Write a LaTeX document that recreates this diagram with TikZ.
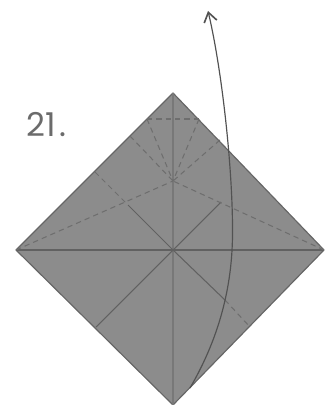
\documentclass[tikz,border=0pt]{standalone}
\usepackage{fontspec}
\setmainfont{Poppins}
\usetikzlibrary{arrows.meta}

\begin{document}
\begin{tikzpicture}[
      x=0.03cm, y=-0.03cm,
      sheet/.style={draw=black!60, fill=black!45, line width=1pt, line join=round},
      fold/.style={draw=black!62, line width=0.9pt},
      faint/.style={draw=black!53, line width=0.9pt},
      valley/.style={draw=black!57, line width=0.9pt, dash pattern=on 4.5pt off 3.5pt},
      arr/.style={draw=black!68, line width=1pt, -{Straight Barb[length=8pt, width=11pt, line width=1.4pt]}},
      lbl/.style={font=\fontsize{28}{28}\selectfont, text=black!58, anchor=base west, inner sep=0pt}]

    \useasboundingbox (0,0) rectangle (334,405);

    % corners of the sheet
    \coordinate (top) at (173,93);
    \coordinate (lft) at (16,250);
    \coordinate (rgt) at (324,250);
    \coordinate (bot) at (173,405);
    \coordinate (mid) at (173,250);
    \coordinate (pinch) at (173,181);

    % points on the edges
    \coordinate (edgeA) at (147,119);
    \coordinate (edgeB) at (199,119);
    \coordinate (edgeC) at (130,136);
    \coordinate (edgeD) at (220,140);
    \coordinate (edgeE) at (95,172);
    \coordinate (edgeG) at (96,327);
    \coordinate (edgeH) at (250,327);
    \coordinate (breakE) at (128,205);
    \coordinate (breakF) at (221,202);
    \coordinate (breakH) at (225,300);

    \path[sheet] (top) -- (rgt) -- (bot) -- (lft) -- cycle;

    % creases
    \draw[faint] (top) -- (bot);
    \draw[fold] (lft) -- (rgt);
    \draw[fold] (edgeG) -- (mid);
    \draw[fold] (mid) -- (breakF);
    \draw[fold] (mid) -- (breakE);
    \draw[fold] (mid) -- (breakH);

    % dashed part
    \draw[valley] (edgeA) -- (edgeB);
    \draw[valley] (edgeA) -- (pinch);
    \draw[valley] (edgeB) -- (pinch);
    \draw[valley] (edgeC) -- (pinch);
    \draw[valley] (edgeD) -- (pinch);
    \draw[valley] (lft) -- (pinch);
    \draw[valley] (rgt) -- (pinch);
    \draw[valley] (edgeE) -- (breakE);
    \draw[valley] (breakH) -- (edgeH);

    % arrow
    \coordinate (start) at (190,388);
    \coordinate (tip) at (208,11);
    \draw[arr] (start) .. controls (215,345) and (232,295) .. (232.5,235)
        .. controls (233,170) and (222,70) .. (tip);

    \node[lbl] (stepno) at (26,137) {21\kern3pt.};
\end{tikzpicture}
\end{document}
